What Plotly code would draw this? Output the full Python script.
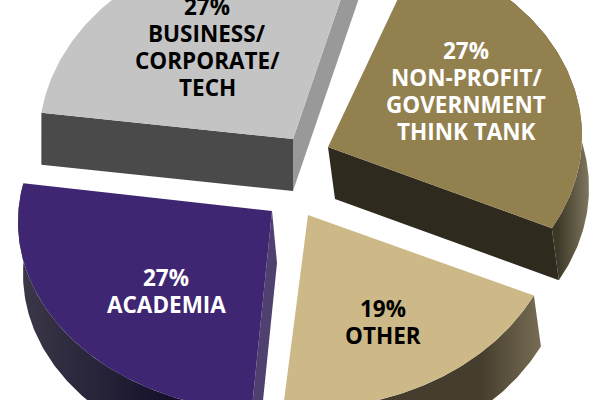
import numpy as np
import plotly.graph_objects as go

# values, clockwise from the top right
categories = [["NON-PROFIT/", "GOVERNMENT", "THINK TANK"], ["OTHER"], ["ACADEMIA"], ["BUSINESS/", "CORPORATE/", "TECH"]]
shares = [27, 19, 27, 27]

START_ANGLE = -71
RX = 254
LINE_GAP = 27

# look of each slice: apex, ellipse centre, small turn, wall offset, colours, first label line
slices = [
    dict(apex=(328, 147), centre=(328, 136), ry=195, turn=2, depth=(7, 52), top="#93804f", text="white",
         start_wall=None, end_wall="#2e2a1e", arc_wall=("#3c3726", "#7d745c", 557, 588), label=(466, 50)),
    dict(apex=(308, 215), centre=(308, 201), ry=207, turn=1, depth=(7, 51), top="#cdb987", text="black",
         start_wall=None, end_wall=None, arc_wall=("#453d2d", "#766c54", 480, 540), label=(383, 308)),
    dict(apex=(272, 211), centre=(272, 222), ry=190, turn=0, depth=(5, 52), top="#3f2672", text="white",
         start_wall="#4f4070", end_wall=None, arc_wall=("#14102a", "#3c3848", 170, 20), label=(166, 277)),
    dict(apex=(293, 139), centre=(293, 140), ry=200, turn=-4, depth=(0, 52), top="#c4c4c4", text="black",
         start_wall="#4a4a4a", end_wall="#999999", arc_wall=None, label=(207, 6)),
]


def arc_points(s, a0, a1):
    t = np.radians(np.linspace(a0, a1, 120))
    return s["centre"][0] + RX * np.cos(t), s["centre"][1] + s["ry"] * np.sin(t)


def wall_trace(xs, ys, depth, color):
    px = np.concatenate([xs, xs[::-1] + depth[0], xs[:1]])
    py = np.concatenate([ys, ys[::-1] + depth[1], ys[:1]])
    return go.Scatter(x=px, y=py, mode="lines", line=dict(width=0), fill="toself", fillcolor=color,
                      hoverinfo="skip", showlegend=False)


def create_traces():
    traces = []
    annotations = []
    angle = START_ANGLE
    for name, share, s in zip(categories, shares, slices):
        a0, a1 = angle + s["turn"], angle + share * 3.6 + s["turn"]
        angle += share * 3.6
        ax, ay = s["apex"]
        xs, ys = arc_points(s, a0, a1)
        d = s["depth"]

        if s["arc_wall"]:
            c0, c1, g0, g1 = s["arc_wall"]
            px = np.concatenate([xs, xs[::-1] + d[0], xs[:1]])
            py = np.concatenate([ys, ys[::-1] + d[1], ys[:1]])
            lo, hi = (g0, g1) if g0 < g1 else (g1, g0)
            scale = [[0, c0], [1, c1]] if g0 < g1 else [[0, c1], [1, c0]]
            traces.append(go.Scatter(x=px, y=py, mode="lines", line=dict(width=0), fill="toself",
                                     fillgradient=dict(type="horizontal", colorscale=scale, start=lo, stop=hi),
                                     hoverinfo="skip", showlegend=False))
        if s["start_wall"]:
            traces.append(wall_trace(np.array([ax, xs[0]]), np.array([ay, ys[0]]), d, s["start_wall"]))
        if s["end_wall"]:
            traces.append(wall_trace(np.array([ax, xs[-1]]), np.array([ay, ys[-1]]), d, s["end_wall"]))

        traces.append(go.Scatter(x=np.concatenate([[ax], xs, [ax]]), y=np.concatenate([[ay], ys, [ay]]),
                                 mode="lines", line=dict(width=0), fill="toself", fillcolor=s["top"],
                                 hoverinfo="skip", showlegend=False))
        for i, line in enumerate([f"{share}%"] + name):
            annotations.append(dict(x=s["label"][0], y=s["label"][1] + i * LINE_GAP, xref="x", yref="y",
                                    text=f"<b>{line}</b>", showarrow=False, align="center",
                                    font=dict(family="Open Sans", size=22.5, color=s["text"])))
    return traces, annotations


def main():
    traces, annotations = create_traces()
    fig = go.Figure(data=traces)
    fig.update_layout(width=600, height=400, margin=dict(l=0, r=0, t=0, b=0),
                      paper_bgcolor="white", plot_bgcolor="white", showlegend=False,
                      annotations=annotations,
                      xaxis=dict(range=[0, 600], visible=False, fixedrange=True),
                      yaxis=dict(range=[400, 0], visible=False, fixedrange=True))
    fig.write_html("out.html", config=dict(displayModeBar=False),
                   post_script="document.body.style.margin='0';")


if __name__ == "__main__":
    main()
